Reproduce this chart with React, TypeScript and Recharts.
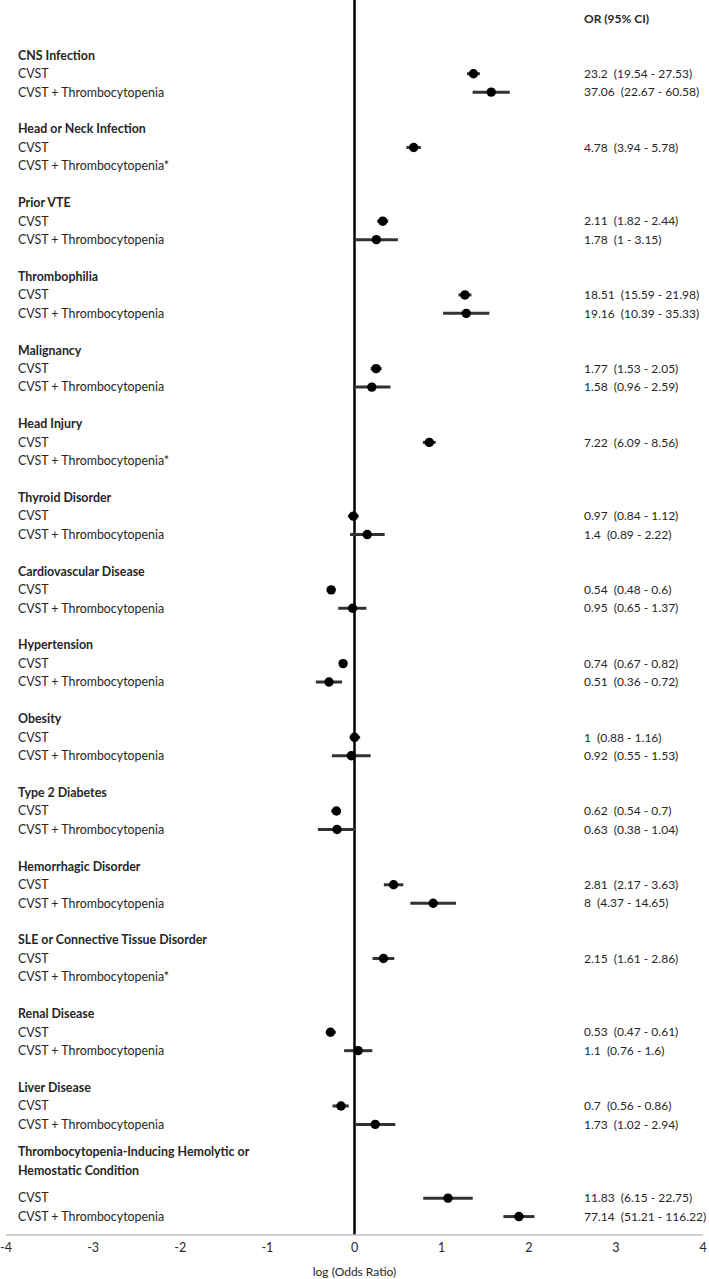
import React from 'react';
import { ScatterChart, Scatter, XAxis, YAxis, ErrorBar, ReferenceLine } from 'recharts';

const categories = [
  'CNS Infection',
  'Head or Neck Infection',
  'Prior VTE',
  'Thrombophilia',
  'Malignancy',
  'Head Injury',
  'Thyroid Disorder',
  'Cardiovascular Disease',
  'Hypertension',
  'Obesity',
  'Type 2 Diabetes',
  'Hemorrhagic Disorder',
  'SLE or Connective Tissue Disorder',
  'Renal Disease',
  'Liver Disease',
  'Thrombocytopenia-Inducing Hemolytic or\nHemostatic Condition',
];

const cvstOR = [23.2, 4.78, 2.11, 18.51, 1.77, 7.22, 0.97, 0.54, 0.74, 1, 0.62, 2.81, 2.15, 0.53, 0.7, 11.83];
const cvstLow = [19.54, 3.94, 1.82, 15.59, 1.53, 6.09, 0.84, 0.48, 0.67, 0.88, 0.54, 2.17, 1.61, 0.47, 0.56, 6.15];
const cvstHigh = [27.53, 5.78, 2.44, 21.98, 2.05, 8.56, 1.12, 0.6, 0.82, 1.16, 0.7, 3.63, 2.86, 0.61, 0.86, 22.75];

const thrOR = [37.06, null, 1.78, 19.16, 1.58, null, 1.4, 0.95, 0.51, 0.92, 0.63, 8, null, 1.1, 1.73, 77.14];
const thrLow = [22.67, null, 1, 10.39, 0.96, null, 0.89, 0.65, 0.36, 0.55, 0.38, 4.37, null, 0.76, 1.02, 51.21];
const thrHigh = [60.58, null, 3.15, 35.33, 2.59, null, 2.22, 1.37, 0.72, 1.53, 1.04, 14.65, null, 1.6, 2.94, 116.22];

const seriesNames = ['CVST', 'CVST + Thrombocytopenia'];
const xTicks = [-4, -3, -2, -1, 0, 1, 2, 3, 4];
const orHeader = 'OR (95% CI)';
const xTitle = 'log (Odds Ratio)';

type RowInfo = { row: number; left?: string[]; bold?: boolean; right?: string; rightBold?: boolean };
type Pt = { x: number; y: number; err: [number, number] };

const series = [
  { name: seriesNames[0], or: cvstOR, lo: cvstLow, hi: cvstHigh },
  { name: seriesNames[1], or: thrOR, lo: thrLow, hi: thrHigh },
];

const rows: RowInfo[] = [{ row: -2, right: orHeader, rightBold: true }];
const points: Pt[] = [];
let cursor = 0;
categories.forEach((cat, i) => {
  const lines = cat.split('\n');
  rows.push({ row: cursor, left: lines, bold: true });
  const base = cursor + lines.length;
  series.forEach((s, k) => {
    const y = base + k;
    const v = s.or[i];
    const lo = s.lo[i];
    const hi = s.hi[i];
    if (v == null || lo == null || hi == null) {
      rows.push({ row: y, left: [s.name + '*'] });
    } else {
      rows.push({ row: y, left: [s.name], right: `${v}\u00a0\u00a0(${lo} - ${hi})` });
      const lv = Math.log10(v);
      points.push({ x: lv, y, err: [lv - Math.log10(lo), Math.log10(hi) - lv] });
    }
  });
  cursor += 3 + lines.length;
});

const rowMap = new Map(rows.map((r) => [r.row, r]));
const rowTicks = rows.map((r) => r.row);

const FONT = 'Lato, "Open Sans", sans-serif';
const TEXT = '#262626';
const FS = 12.4;

const RowTick = (props: any) => {
  const { y, payload } = props;
  const info = rowMap.get(payload.value);
  if (!info) return null;
  const lines = info.left || [];
  const n = lines.length;
  return (
    <g>
      {lines.map((ln, j) => (
        <text
          key={j}
          x={18}
          y={y + (j - (n - 1) / 2) * 19}
          dy="0.35em"
          fontFamily={FONT}
          fontSize={FS}
          fontWeight={info.bold ? 700 : 400}
          fill={TEXT}
        >
          {ln}
        </text>
      ))}
      {info.right && (
        <text
          x={584}
          y={y}
          dy="0.35em"
          fontFamily={FONT}
          fontSize={12}
          fontWeight={info.rightBold ? 700 : 400}
          fill={TEXT}
        >
          {info.right}
        </text>
      )}
    </g>
  );
};

const Dot = (p: any) => <circle cx={p.cx} cy={p.cy} r={4.7} fill="#000" />;

export default function App() {
  return (
    <div style={{ position: 'absolute', left: 0, top: 0, width: 709, height: 1279, background: '#fff' }}>
      <ScatterChart width={709} height={1279} margin={{ top: 0, right: 6, left: 5, bottom: 0 }}>
        <XAxis
          type="number"
          dataKey="x"
          domain={[-4, 4]}
          ticks={xTicks}
          interval={0}
          height={44}
          axisLine={{ stroke: '#bfbfbf', strokeWidth: 1.5 }}
          tickLine={false}
          tick={{ fontFamily: FONT, fontSize: 12.5, fill: TEXT }}
          label={{ value: xTitle, position: 'insideBottom', offset: 3, style: { fontFamily: FONT, fontSize: 12, fill: TEXT } }}
        />
        <YAxis
          type="number"
          dataKey="y"
          domain={[-3, 64]}
          reversed
          ticks={rowTicks}
          interval={0}
          width={1}
          axisLine={false}
          tickLine={false}
          tick={<RowTick />}
          allowDataOverflow
        />
        <ReferenceLine x={0} stroke="#000" strokeWidth={2.5} />
        <Scatter data={points} shape={<Dot />} isAnimationActive={false}>
          <ErrorBar dataKey="err" direction="x" width={0} stroke="#333" strokeWidth={3} />
        </Scatter>
      </ScatterChart>
    </div>
  );
}
